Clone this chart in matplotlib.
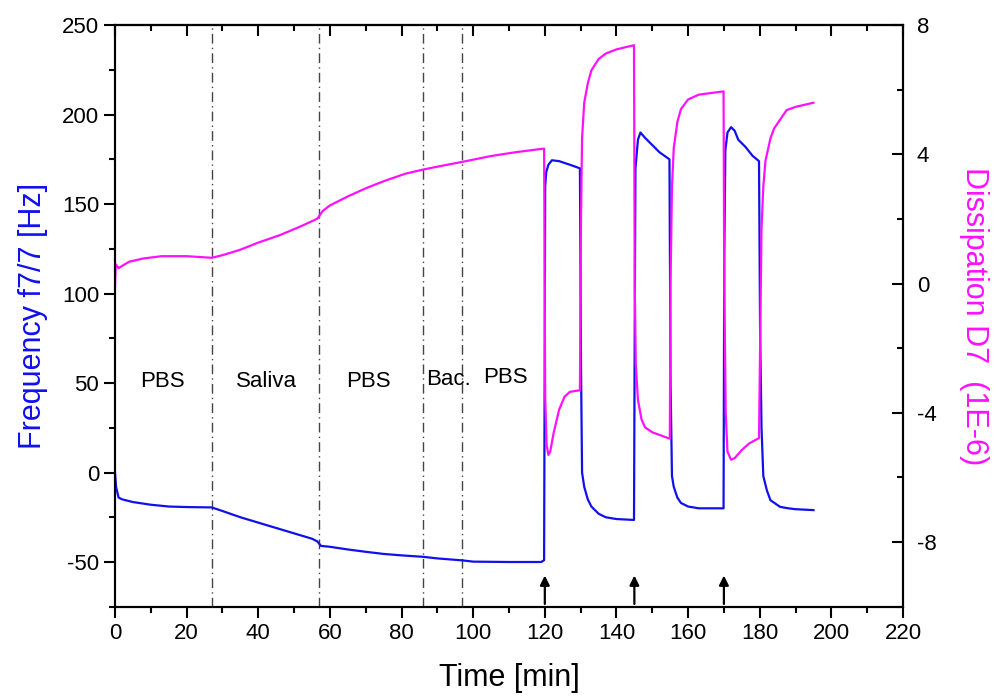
import numpy as np
import matplotlib
matplotlib.use("Agg")
import matplotlib.pyplot as plt

plt.rcParams['font.family'] = ['Liberation Sans', 'DejaVu Sans']
plt.rcParams['axes.unicode_minus'] = False

# Frequency f7/7 [Hz] (left axis)
t_freq = [0, 0.3, 1, 2, 5, 10, 15, 20, 27, 30, 35, 40, 45, 50, 55, 56.5, 57.5, 60,
          65, 70, 75, 80, 86, 90, 97, 100, 110, 119, 119.8,
          120.1, 120.4, 121, 122, 124, 127, 129.8,
          130.1, 130.4, 131, 132, 133, 135, 137, 140, 144.9,
          145.1, 145.3, 146, 146.7, 148, 150, 152, 154.8,
          155.1, 155.5, 156, 157, 158, 160, 163, 169.9,
          170.1, 170.4, 171, 172, 173, 174, 176, 178, 179.8,
          180.1, 180.5, 181, 182, 183, 185.7, 188, 190, 195]
freq = [0, -8, -14, -15, -16.5, -18, -19, -19.3, -19.5, -21.5, -25, -28, -31, -34, -37, -38.5, -41, -41.5,
        -43, -44.3, -45.5, -46.3, -47.1, -48, -49.1, -49.8, -50, -50, -49,
        160, 168, 172, 174.5, 174, 172, 170,
        60, 0, -8, -15, -19, -23, -25, -26, -26.5,
        80, 170, 186, 190, 187, 183, 179, 175,
        50, -2, -8, -14, -17, -19, -20, -20,
        120, 180, 190, 193, 191, 186, 182, 177, 174,
        80, 25, -2, -10, -15.5, -19.2, -20, -20.5, -21]

# Dissipation D7 (1E-6) (right axis)
t_diss = [0, 0.2, 1, 2, 4, 8, 13, 20, 27, 30, 35, 40, 46, 52, 56.5, 58, 60, 65, 70, 75,
          81, 86, 90, 97, 105, 112, 119.8,
          120.1, 120.5, 121, 121.5, 122.5, 124, 125.5, 127, 129.8,
          130.1, 130.4, 131, 132, 133, 135, 137, 140, 144.9,
          145.1, 145.4, 146, 147, 148, 150, 154.9,
          155.1, 155.5, 156, 157, 158, 160, 163, 169.9,
          170.1, 170.5, 171, 172, 173, 175, 177, 179.8,
          180.1, 180.5, 181, 181.6, 183, 184, 187.5, 190, 195]
diss = [-0.1, 0.6, 0.48, 0.55, 0.68, 0.78, 0.85, 0.85, 0.8, 0.88, 1.05, 1.27, 1.5, 1.78, 2.01, 2.25, 2.42, 2.7, 2.95, 3.17,
        3.4, 3.53, 3.62, 3.77, 3.95, 4.07, 4.18,
        -3.5, -5.0, -5.3, -5.2, -4.6, -3.9, -3.5, -3.35, -3.3,
        2, 4.5, 5.6, 6.2, 6.6, 6.95, 7.12, 7.25, 7.38,
        0, -2.5, -3.6, -4.2, -4.45, -4.6, -4.8,
        0, 3, 4.2, 5.0, 5.4, 5.7, 5.85, 5.95,
        0, -4, -5.2, -5.45, -5.4, -5.15, -4.95, -4.78,
        -2, 1.7, 3.0, 3.8, 4.5, 4.8, 5.37, 5.47, 5.6]

phase_lines = [27, 57, 86, 97]
phase_names = ['PBS', 'Saliva', 'PBS', 'Bac.', 'PBS']
phase_x = [13.3, 42.2, 70.7, 93, 109.1]
phase_y = [51, 51, 51, 52, 53]
arrow_times = [120, 145, 170]

fig = plt.figure(figsize=(10, 6.99), dpi=100)
ax = fig.add_axes([0.115, 0.132, 0.788, 0.832])
ax2 = ax.twinx()

ax.plot(t_freq, freq, color='#1010ee', lw=1.6, zorder=3)
ax2.plot(t_diss, diss, color='#ff10ff', lw=1.6)

for xl in phase_lines:
    ax.axvline(xl, color='#444444', lw=1.0, linestyle=(0, (7, 3, 1, 3)))
for name, xp, yp in zip(phase_names, phase_x, phase_y):
    ax.text(xp, yp, name, ha='center', va='center', fontsize=16)
for ta in arrow_times:
    ax.annotate('', xy=(ta, -56), xytext=(ta, -75),
                arrowprops=dict(arrowstyle='-|>', color='black', lw=1.6,
                                mutation_scale=14))

ax.set_xlim(0, 220)
ax.set_ylim(-75, 250)
ax2.set_ylim(-10, 8)

ax.set_xticks(np.arange(0, 221, 20))
ax.set_xticks(np.arange(0, 221, 10), minor=True)
ax.set_yticks(np.arange(-50, 251, 50))
ax.set_yticks(np.arange(-75, 251, 25), minor=True)
ax2.set_yticks([-8, -4, 0, 4, 8])
ax2.set_yticks(np.arange(-10, 9, 2), minor=True)

ax.tick_params(axis='both', which='major', direction='out', length=8, width=1.5, labelsize=16)
ax.tick_params(axis='both', which='minor', direction='out', length=4.5, width=1.5)
ax.tick_params(axis='x', which='both', top=False)
ax2.tick_params(axis='y', which='major', direction='in', length=8, width=1.5, labelsize=16, pad=10)
ax2.tick_params(axis='y', which='minor', direction='in', length=4.5, width=1.5)

for a in (ax, ax2):
    for sp in a.spines.values():
        sp.set_linewidth(1.5)

# top ticks point inward, no labels
axt = ax.secondary_xaxis('top')
axt.set_xticks(np.arange(0, 221, 20))
axt.set_xticks(np.arange(0, 221, 10), minor=True)
axt.tick_params(which='major', direction='in', length=8, width=1.5, labeltop=False)
axt.tick_params(which='minor', direction='in', length=4.5, width=1.5)
axt.spines['top'].set_linewidth(1.5)

ax.set_xlabel('Time [min]', fontsize=22, labelpad=14)
ax.set_ylabel('Frequency f7/7 [Hz]', fontsize=22, color='#1010ee', labelpad=10)
ax2.set_ylabel('Dissipation D7  (1E-6)', fontsize=22, color='#ff10ff', rotation=270, labelpad=38)

fig.savefig('out.png', dpi=100)
